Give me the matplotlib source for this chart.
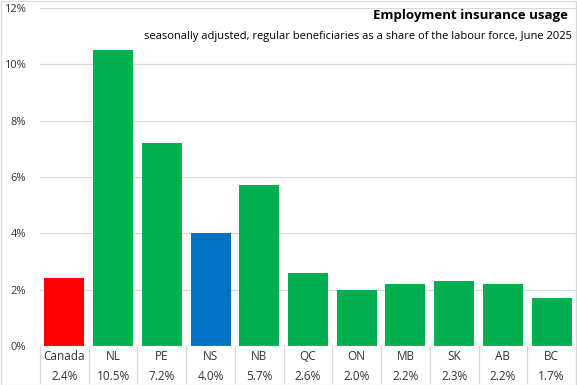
import matplotlib.pyplot as plt
import numpy as np

# --- Data ---
regions = ["Canada", "NL", "PE", "NS", "NB", "QC", "ON", "MB", "SK", "AB", "BC"]
values = [2.4, 10.5, 7.2, 4.0, 5.7, 2.6, 2.0, 2.2, 2.3, 2.2, 1.7]
colors = ["#FF0000", "#00B050", "#00B050", "#0070C0", "#00B050", "#00B050",
          "#00B050", "#00B050", "#00B050", "#00B050", "#00B050"]
yticks = [0, 2, 4, 6, 8, 10, 12]

plt.rcParams["font.family"] = ["Open Sans", "DejaVu Sans"]

W, H = 577, 385
fig = plt.figure(figsize=(W / 100, H / 100), dpi=100)
ax = fig.add_axes([40 / W, (H - 346) / H, 536 / W, 338 / H])

x = np.arange(len(regions))
ax.bar(x, values, width=0.82, color=colors, zorder=3)

ax.set_xlim(-0.5, len(regions) - 0.5)
ax.set_ylim(0, 12)
ax.set_yticks(yticks)
ax.set_yticklabels([f"{t}%" for t in yticks], fontsize=8, color="#333333")
ax.yaxis.grid(True, color="#D9D9D9", linewidth=0.9, zorder=0)
ax.tick_params(axis="y", length=0, pad=10)
ax.set_xticks([])
for s in ax.spines.values():
    s.set_visible(False)
ax.axhline(0, color="#D9D9D9", linewidth=0.9, zorder=4)

# category table under the axis
tr = ax.get_xaxis_transform()
for i, (r, v) in enumerate(zip(regions, values)):
    ax.text(i, -0.03, r, transform=tr, ha="center", va="center", fontsize=8.5, color="#333333")
    ax.text(i, -0.09, f"{v:.1f}%", transform=tr, ha="center", va="center", fontsize=8.5, color="#333333")
for b in np.arange(len(regions) + 1) - 0.5:
    ax.plot([b, b], [0, -0.11], transform=tr, color="#D9D9D9", linewidth=0.9, clip_on=False)

# titles
fig.text(568 / W, 1 - 16 / H, "Employment insurance usage", ha="right", va="center",
         fontsize=9.5, fontweight="bold", color="black")
fig.text(572 / W, 1 - 36 / H,
         "seasonally adjusted, regular beneficiaries as a share of the labour force, June 2025",
         ha="right", va="center", fontsize=8, color="black")

# outer border
fig.patches.append(plt.Rectangle((0.5 / W, 0.5 / H), 1 - 1.5 / W, 1 - 1.5 / H,
                                 transform=fig.transFigure, fill=False,
                                 edgecolor="#D9D9D9", linewidth=0.9))

fig.savefig("out.png", dpi=100)
